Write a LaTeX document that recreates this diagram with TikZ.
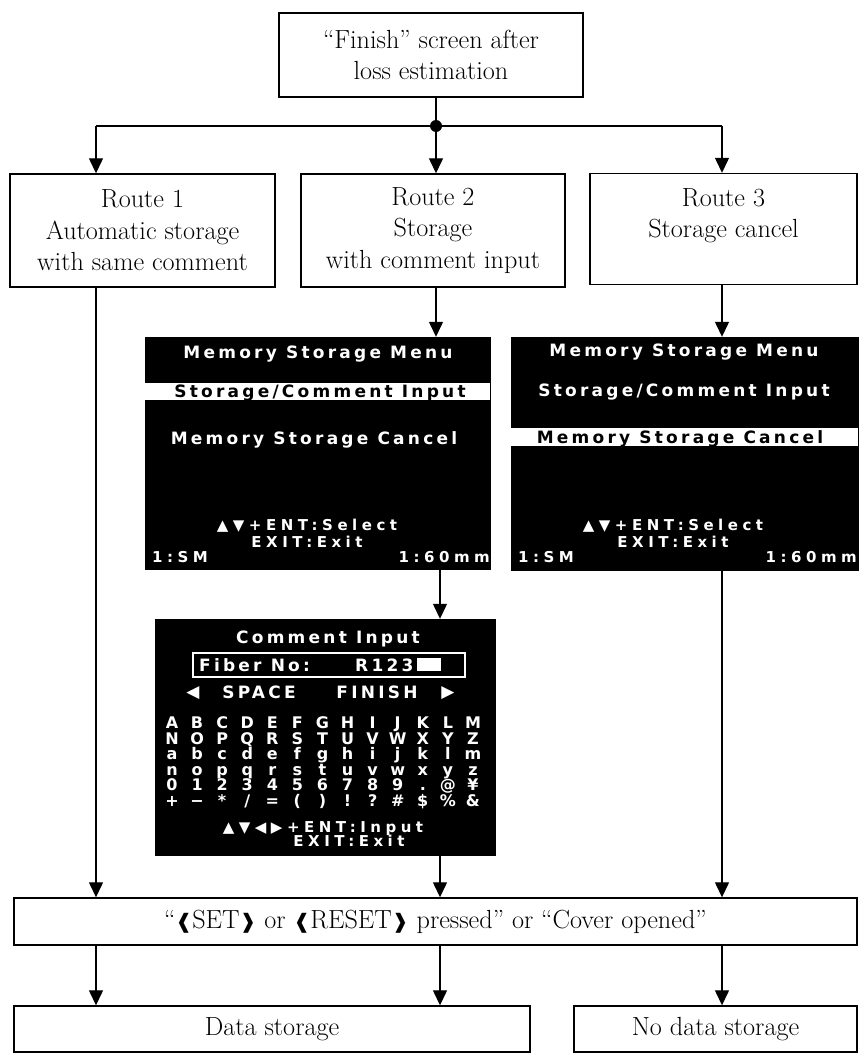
\documentclass[tikz,border=0pt]{standalone}
\usepackage{fontspec}
\usetikzlibrary{arrows.meta}
\newfontfamily\scrfont[LetterSpace=19]{DejaVu Sans}
\newfontfamily\scrfontw[LetterSpace=30]{DejaVu Sans}
\newfontfamily\scrgrid{DejaVu Sans}
\newfontfamily\dingfont{DejaVu Sans}
\newcommand\mylb{{\dingfont\bfseries\fontsize{20}{20}\selectfont ❰}}
\newcommand\myrb{{\dingfont\bfseries\fontsize{20}{20}\selectfont ❱}}
\begin{document}
\begin{tikzpicture}[x=1pt,y=-1pt,
  box/.style={draw, line width=1.4pt, inner sep=0pt, align=center,
    font=\fontsize{26.2}{31.5}\selectfont},
  arr/.style={-{Triangle[length=15pt,width=14pt]}, line width=1.3pt},
  ln/.style={line width=1.3pt},
  screen/.style={fill=black, draw=black, inner sep=0pt},
  st/.style={text=white, inner sep=0pt, text height=12.4pt, text depth=0pt,
    font=\scrfont\bfseries\fontsize{17}{17}\selectfont},
  sts/.style={text=white, inner sep=0pt, text height=10.9pt, text depth=0pt,
    font=\scrfontw\bfseries\fontsize{15}{15}\selectfont},
  sg/.style={text=white, inner sep=0pt, text height=11.7pt, text depth=0pt,
    font=\scrgrid\bfseries\fontsize{16}{16}\selectfont}]
\fill[white] (0,0) rectangle (859,1055);
\useasboundingbox (0,0) rectangle (859,1055);

\coordinate (c1) at (96,0);
\coordinate (c2) at (436,0);
\coordinate (c2b) at (440,0);
\coordinate (c3) at (722,0);

% top
\node[box, minimum width=304pt, minimum height=84pt] (top) at (431,55)
  {“Finish” screen after\\loss estimation};
\node[circle, fill=black, inner sep=0pt, minimum size=12pt] (dot) at (436,126) {};
\coordinate (h1) at (96,126);
\coordinate (h3) at (722,126);

% routes
\node[box, minimum width=265pt, minimum height=113pt] (r1) at (142.5,230.5)
  {Route 1\\Automatic storage\\with same comment};
\node[box, minimum width=264pt, minimum height=113pt] (r2) at (433,230.5)
  {Route 2\\Storage\\with comment input};
\node[box, minimum width=267pt, minimum height=111pt] (r3) at (723.5,229)
  {Route 3\\Storage cancel\\~};

% screen 1
\node[screen, minimum width=345pt, minimum height=232pt] (s1) at (317.5,453) {};
\fill[white] (145,383) rectangle (490,400);
\node[st] (s1a) at (318,352) {Memory Storage Menu};
\node[st, text=black] (s1b) at (320,391.5) {Storage/Comment Input};
\node[st] (s1c) at (314,438) {Memory Storage Cancel};
\node[sts] (s1d) at (307,525) {▲▼+ENT:Select};
\node[sts] (s1e) at (307,542) {EXIT:Exit};
\node[sts, anchor=west] (s1f) at (152,557) {1:SM};
\node[sts, anchor=east] (s1g) at (490,557) {1:60mm};

% screen 2
\node[screen, minimum width=347pt, minimum height=233pt] (s2) at (684.5,453.5) {};
\fill[white] (511,428) rectangle (858,446);
\node[st] (s2a) at (684,350) {Memory Storage Menu};
\node[st] (s2b) at (684,390) {Storage/Comment Input};
\node[st, text=black] (s2c) at (680,437) {Memory Storage Cancel};
\node[sts] (s2d) at (673,525) {▲▼+ENT:Select};
\node[sts] (s2e) at (673,542) {EXIT:Exit};
\node[sts, anchor=west] (s2f) at (518,557) {1:SM};
\node[sts, anchor=east] (s2g) at (857,557) {1:60mm};

% comment input screen
\node[screen, minimum width=340pt, minimum height=236pt] (cs) at (325,737) {};
\node[st] (csa) at (328,637) {Comment Input};
\draw[white, line width=1.2pt] (193,653) rectangle (465,677);
\node[st, anchor=west] (csb) at (199,665) {Fiber No:};
\node[st, anchor=west] (csb2) at (355,665) {R123};
\fill[white] (417,658) rectangle (441,671);
\node[sts, font=\scrgrid\fontsize{17}{17}\selectfont] (csl) at (193,692) {◀};
\node[st] (csc) at (259,692) {SPACE};
\node[st] (csd) at (377,692) {FINISH};
\node[sts, font=\scrgrid\fontsize{17}{17}\selectfont] (csr) at (448,692) {▶};
\foreach \row [count=\r] in {
  {A,B,C,D,E,F,G,H,I,J,K,L,M},
  {N,O,P,Q,R,S,T,U,V,W,X,Y,Z},
  {a,b,c,d,e,f,g,h,i,j,k,l,m},
  {n,o,p,q,r,s,t,u,v,w,x,y,z},
  {0,1,2,3,4,5,6,7,8,9,.,@,¥},
  {+,−,*,/,=,{(},{)},!,?,\#,\$,\%,\&}} {
  \foreach \ch [count=\i] in \row {
    \node[sg] (g\r-\i) at ({172+(\i-1)*25.08},{723+(\r-1)*15.5}) {\ch};
  }
}
\node[sts] (cse) at (323,827) {▲▼◀▶+ENT:Input};
\node[sts] (csf) at (349,841) {EXIT:Exit};

% bottom
\node[box, minimum width=843pt, minimum height=47pt] (set) at (435.5,921.5)
  {“\mylb SET\myrb{} or \mylb RESET\myrb{} pressed” or “Cover opened”};
\node[box, minimum width=516pt, minimum height=46pt] (data) at (272,1029) {Data storage};
\node[box, minimum width=283pt, minimum height=46pt] (nodata) at (715.5,1029) {No data storage};

% connectors
\draw[ln] (top.south -| c2) -- (dot);
\draw[ln] (h1) -- (h3);
\draw[arr] (h1) -- (r1.north -| h1);
\draw[arr] (dot) -- (r2.north -| dot);
\draw[arr] (h3) -- (r3.north -| h3);
\draw[arr] (r1.south -| c1) -- (set.north -| c1);
\draw[arr] (r2.south -| c2) -- (s1.north -| c2);
\draw[arr] (r3.south -| c3) -- (s2.north -| c3);
\draw[arr] (s1.south -| c2b) -- (cs.north -| c2b);
\draw[arr] (cs.south -| c2b) -- (set.north -| c2b);
\draw[arr] (s2.south -| c3) -- (set.north -| c3);
\draw[arr] (set.south -| c1) -- (data.north -| c1);
\draw[arr] (set.south -| c2b) -- (data.north -| c2b);
\draw[arr] (set.south -| c3) -- (nodata.north -| c3);
\end{tikzpicture}
\end{document}
